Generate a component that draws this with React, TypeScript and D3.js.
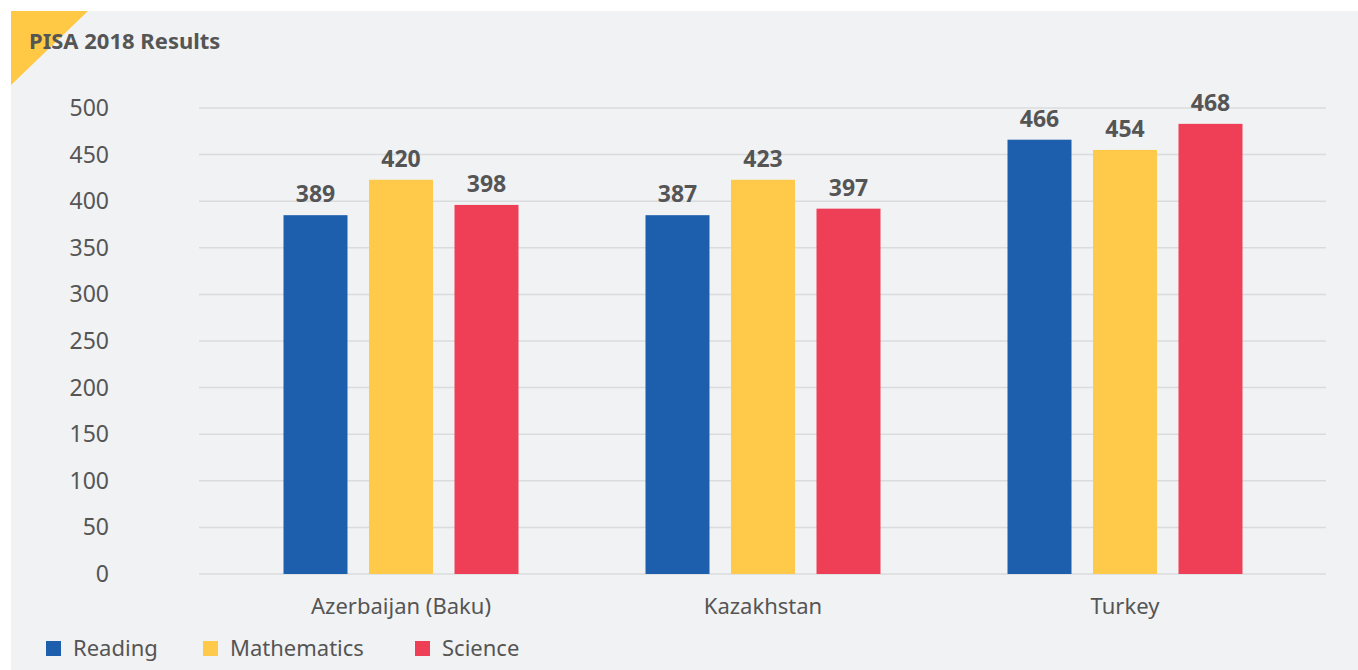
import React, { useRef, useEffect } from 'react';
import * as d3 from 'd3';

const countries = ['Azerbaijan (Baku)', 'Kazakhstan', 'Turkey'];
const subjects = ['Reading', 'Mathematics', 'Science'];
// bar heights as drawn in the picture
const reading = [385, 385, 466];
const mathematics = [423, 423, 455];
const science = [396, 392, 483];
// value labels printed above the bars
const readingLabels = ['389', '387', '466'];
const mathematicsLabels = ['420', '423', '454'];
const scienceLabels = ['398', '397', '468'];
const yTicks = [0, 50, 100, 150, 200, 250, 300, 350, 400, 450, 500];

const colors = ['#1e5fad', '#ffc94a', '#ef3f57'];
const textColor = '#555555';
const font = '"Noto Sans", sans-serif';

const W = 1358;
const H = 670;

const App: React.FC = () => {
  const ref = useRef<SVGSVGElement | null>(null);

  useEffect(() => {
    if (!ref.current) return;
    const svg = d3.select(ref.current);
    svg.selectAll('*').remove();

    const values = [reading, mathematics, science];
    const labels = [readingLabels, mathematicsLabels, scienceLabels];

    // panel background + corner triangle
    svg.append('rect').attr('width', W).attr('height', H).attr('fill', '#ffffff');
    svg.append('rect').attr('x', 11).attr('y', 11).attr('width', W - 11).attr('height', H - 11).attr('fill', '#f1f2f4');
    svg.append('path').attr('d', 'M11,11 L88,11 L11,85 Z').attr('fill', '#ffc845');

    svg.append('text')
      .attr('x', 29).attr('y', 49)
      .attr('font-family', font).attr('font-size', 22).attr('font-weight', 700)
      .attr('fill', textColor)
      .text('PISA 2018 Results');

    const y = d3.scaleLinear().domain([0, 500]).range([574, 108]);
    const x0 = d3.scaleBand().domain(countries).range([220, 1306]).paddingInner(0);
    const x1 = d3.scaleBand().domain(subjects).range([-117.5, 117.5]).paddingInner(0.2515);

    // gridlines
    svg.append('g').selectAll('line')
      .data(yTicks)
      .enter().append('line')
      .attr('x1', 199).attr('x2', 1326)
      .attr('y1', d => y(d)).attr('y2', d => y(d))
      .attr('stroke', '#dadbdd').attr('stroke-width', 1.5);

    // y tick labels
    svg.append('g').selectAll('text')
      .data(yTicks)
      .enter().append('text')
      .attr('x', 109).attr('y', d => y(d))
      .attr('dy', '0.35em')
      .attr('text-anchor', 'end')
      .attr('font-family', font).attr('font-size', 23)
      .attr('fill', textColor)
      .text(d => String(d));

    // bars + value labels
    subjects.forEach((s, si) => {
      const g = svg.append('g');
      g.selectAll('rect')
        .data(countries)
        .enter().append('rect')
        .attr('x', (c) => (x0(c) || 0) + x0.bandwidth() / 2 + (x1(s) || 0))
        .attr('y', (_c, i) => y(values[si][i]))
        .attr('width', x1.bandwidth())
        .attr('height', (_c, i) => y(0) - y(values[si][i]))
        .attr('fill', colors[si]);

      g.selectAll('text')
        .data(countries)
        .enter().append('text')
        .attr('x', (c) => (x0(c) || 0) + x0.bandwidth() / 2 + (x1(s) || 0) + x1.bandwidth() / 2)
        .attr('y', (_c, i) => y(values[si][i]) - 13)
        .attr('text-anchor', 'middle')
        .attr('font-family', font).attr('font-size', 23).attr('font-weight', 700)
        .attr('fill', textColor)
        .text((_c, i) => labels[si][i]);
    });

    // category labels
    svg.append('g').selectAll('text')
      .data(countries)
      .enter().append('text')
      .attr('x', c => (x0(c) || 0) + x0.bandwidth() / 2)
      .attr('y', 614)
      .attr('text-anchor', 'middle')
      .attr('font-family', font).attr('font-size', 22)
      .attr('fill', textColor)
      .text(c => c);

    // legend
    const legendX = [46, 203, 415];
    const lg = svg.append('g').selectAll('g')
      .data(subjects)
      .enter().append('g')
      .attr('transform', (_d, i) => `translate(${legendX[i]},641)`);
    lg.append('rect').attr('width', 15).attr('height', 15).attr('fill', (_d, i) => colors[i]);
    lg.append('text')
      .attr('x', 27).attr('y', 15)
      .attr('font-family', font).attr('font-size', 22)
      .attr('fill', textColor)
      .text(d => d);
  }, []);

  return (
    <svg
      ref={ref}
      width={W}
      height={H}
      style={{ position: 'absolute', left: 0, top: 0 }}
    />
  );
};

export default App;
